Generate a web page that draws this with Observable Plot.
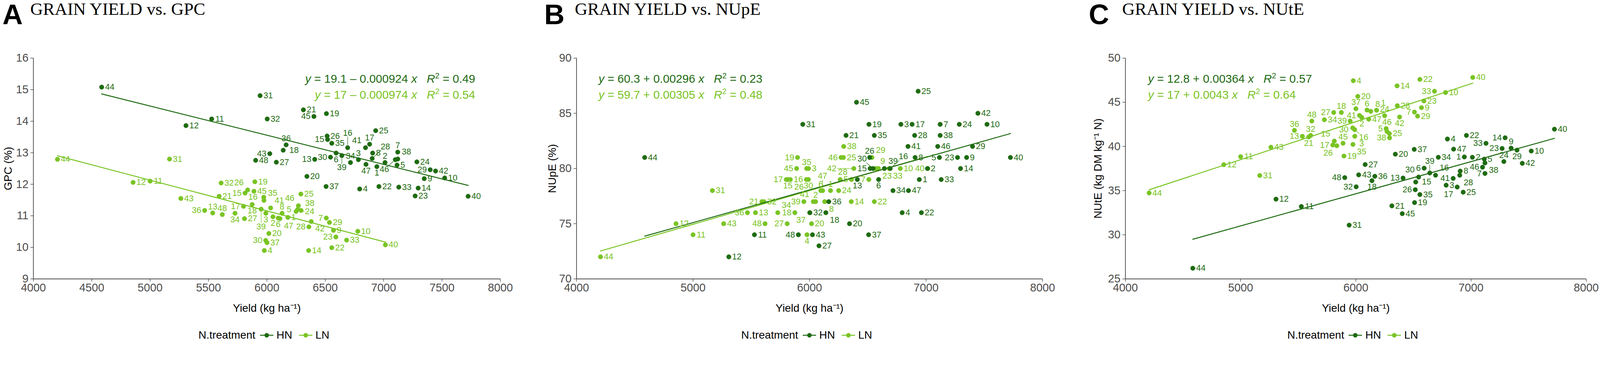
<!DOCTYPE html>
<html>
<head>
<meta charset="utf-8">
<script src="https://cdn.jsdelivr.net/npm/d3@7"></script>
<script src="https://cdn.jsdelivr.net/npm/@observablehq/plot@0.6"></script>
<style>
  html, body { margin: 0; padding: 0; background: #fff; overflow: hidden; }
  #root { position: absolute; left: 0; top: 0; width: 4552px; height: 974px; transform-origin: 0 0; font-family: "Liberation Sans", Arial, sans-serif; background: #fff; }
  .panel { position: absolute; top: 0; height: 974px; }
  .letter { position: absolute; top: 2px; font: bold 80px/80px "Liberation Sans", Arial, sans-serif; color: #000; }
  .title { position: absolute; top: 0; font: 50px/50px "Liberation Serif", "Times New Roman", serif; color: #000; white-space: nowrap; }
  .legend { position: absolute; top: 937px; display: flex; align-items: center; font-size: 31px; line-height: 36px; color: #000; white-space: nowrap; transform: translateX(-50%); }
  .legend svg { display: block; }
</style>
</head>
<body>
<div id="root"></div>
<script>
// ---------------- data ----------------
const genotypes = d3.range(1, 49).map(String);
const treatments = ["HN", "LN"];
const colors = ["#1e6b12", "#79c424"];

const yieldHN = [6942,7012,6784,6795,7115,6593,7121,6906,7348,7523,
                 5527,5307,6410,7296,6520,6692,6880,6140,6510,6343,
                 6313,6960,7270,7285,6932,6516,6081,6902,7399,6545,
                 5942,6003,7130,6716,6556,6165,6507,7121,6642,7724,
                 6845,7445,6025,4585,6403,7100,6849,5904];
const yieldLN = [6180,6052,5991,5978,6263,6097,6509,6130,6570,6779,
                 5000,4854,5536,6358,5813,5973,5800,5874,5897,6017,
                 5591,6556,6591,6250,6291,5835,5808,6360,6536,5990,
                 5166,5608,6683,5727,5975,5467,6001,6293,5951,7015,
                 6032,6380,5263,4206,5889,6270,6112,5618];

const gpcHN = [12.56,12.69,12.78,11.85,12.61,12.99,13.02,12.99,12.18,12.20,
               14.07,13.86,12.79,11.88,13.42,13.16,13.27,13.08,14.24,12.25,
               14.36,11.93,11.63,12.71,13.70,13.53,12.70,12.82,12.46,12.86,
               14.81,14.07,11.91,12.69,13.30,13.25,11.93,12.80,12.91,11.62,
               13.16,12.42,12.97,15.08,14.15,12.78,12.63,12.76];
const gpcLN = [10.95,10.97,11.08,9.90,11.20,10.93,10.93,11.08,10.54,10.51,
               12.10,12.06,11.09,9.90,11.72,11.59,11.30,11.36,12.08,10.44,
               11.62,9.99,10.33,11.14,11.69,11.82,10.91,10.65,10.79,10.22,
               12.80,12.04,10.23,11.08,11.49,11.17,10.15,11.17,11.21,10.08,
               11.25,10.82,11.55,12.79,11.78,11.32,10.91,11.04];

const nupeHN = [79,80,84,76,81,79,84,81,81,84,
                74,72,79,80,80,80,84,76,84,75,
                83,76,81,84,87,81,73,83,82,80,
                84,76,79,78,83,77,74,83,80,81,
                82,85,74,81,86,82,78,74];
const nupeLN = [78,77,80,74,79,78,79,77,80,80,
                74,75,76,77,79,79,79,76,81,75,
                77,77,80,78,81,79,75,79,81,79,
                78,77,80,76,80,76,76,82,77,80,
                77,80,75,72,80,81,78,75];

const nuteHN = [38.81,38.77,35.61,40.84,38.56,37.54,36.94,37.21,39.81,39.48,
                33.20,34.03,36.42,40.98,35.97,36.74,35.40,36.12,33.64,39.12,
                33.27,41.25,39.77,38.29,34.82,35.10,37.95,36.74,39.58,36.53,
                31.09,35.43,40.35,38.77,34.55,36.62,39.67,38.13,36.99,41.95,
                36.38,38.09,36.78,26.21,32.39,37.65,39.69,36.47];
const nuteLN = [44.10,43.28,41.15,47.44,42.02,44.12,43.89,43.97,44.39,46.10,
                38.84,37.93,41.15,46.86,40.61,42.10,40.16,43.84,38.91,45.67,
                41.07,47.59,45.15,43.48,41.45,40.08,43.84,44.61,43.43,41.90,
                36.71,41.25,46.25,43.02,40.23,41.82,44.27,40.97,42.87,47.81,
                43.51,43.33,39.91,34.73,40.36,41.70,43.08,42.87];

const panelLetters = ["A", "B", "C"];
const panelTitles = ["GRAIN YIELD vs. GPC", "GRAIN YIELD vs. NUpE", "GRAIN YIELD vs. NUtE"];
const yLabels = ["GPC (%)", "NUpE (%)", "NUtE (kg DM kg\u207B\u00B9 N)"];
const xLabel = "Yield (kg ha\u207B\u00B9)";
const xDomain = [4000, 8000];
const yDomains = [[9, 16], [70, 90], [25, 50]];
const xTicksA = [4000, 4500, 5000, 5500, 6000, 6500, 7000, 7500, 8000];
const xTicksBC = [4000, 5000, 6000, 7000, 8000];
const yTicksA = [9, 10, 11, 12, 13, 14, 15, 16];
const yTicksB = [70, 75, 80, 85, 90];
const yTicksC = [25, 30, 35, 40, 45, 50];
const interceptHN = [19.1, 60.3, 12.8];
const slopeHN = [-0.000924, 0.00296, 0.00364];
const r2HN = [0.49, 0.23, 0.57];
const interceptLN = [17, 59.7, 17];
const slopeLN = [-0.000974, 0.00305, 0.0043];
const r2LN = [0.54, 0.48, 0.64];
const legendTitle = "N.treatment";

// ---------------- layout ----------------
const root = document.getElementById("root");
const fitScale = Math.min(window.innerWidth / 4552, window.innerHeight / 974);
root.style.transform = `scale(${fitScale})`;

const PW = 4552 / 3, H = 845, MT = 85, MB = 131;
const layouts = [
  {ml: 94.5, mr: 94.3, letterX: 7, titleX: 86, eqAnchor: "end", eqDx: -71, yTitleDx: -72},
  {ml: 122.7, mr: 68.7, letterX: 31, titleX: 118, eqAnchor: "start", eqDx: 63, yTitleDx: -69},
  {ml: 166.3, mr: 40, letterX: 63, titleX: 158, eqAnchor: "start", eqDx: 65, yTitleDx: -78}
];
const FONT = "'Liberation Sans', Arial, sans-serif";
const LABEL_FS = 24, EQ_FS = 33, R = 6.5;

const panelValues = [[gpcHN, gpcLN], [nupeHN, nupeLN], [nuteHN, nuteLN]];
const yieldsByT = [yieldHN, yieldLN];
const intercepts = [interceptHN, interceptLN];
const slopes = [slopeHN, slopeLN];
const r2s = [r2HN, r2LN];
const xTicksAll = [xTicksA, xTicksBC, xTicksBC];
const yTicksAll = [yTicksA, yTicksB, yTicksC];

function overlap(a, b) {
  const w = Math.min(a[2], b[2]) - Math.max(a[0], b[0]);
  const h = Math.min(a[3], b[3]) - Math.max(a[1], b[1]);
  return (w > 0 && h > 0) ? w * h : 0;
}

// simple greedy label repel (ggrepel-like), in pixel space
function placeLabels(pts, frame, reserved) {
  const dotBoxes = pts.map(p => [p.px - R - 1, p.py - R - 1, p.px + R + 1, p.py + R + 1]);
  const crowd = pts.map(p => pts.filter(q => Math.hypot(q.px - p.px, q.py - p.py) < 45).length);
  const order = d3.range(pts.length).sort((a, b) => crowd[b] - crowd[a] || a - b);
  const placed = reserved.slice();
  const res = new Array(pts.length);
  for (const i of order) {
    const p = pts[i];
    const w = p.text.length * 0.556 * LABEL_FS, h = 0.72 * LABEL_FS;
    const cands = [];
    for (let k = 0; k < 7; k++) {
      const g = 3 + k * 8;
      const dirs = [[1, 0], [1, -1], [-1, 0], [-1, -1], [0, -1], [1, 1], [-1, 1], [0, 1]];
      for (const [dx, dy] of dirs) {
        const cx = p.px + dx * (R + g + w / 2) * (dy !== 0 && dx !== 0 ? 0.8 : 1);
        const cy = p.py + dy * (R + g + h / 2) * (dy !== 0 && dx !== 0 ? 0.8 : 1);
        cands.push({cx, cy, k});
      }
    }
    let best = null, bestScore = Infinity;
    cands.forEach((c, ci) => {
      const b = [c.cx - w / 2, c.cy - h / 2, c.cx + w / 2, c.cy + h / 2];
      let s = ci * 1.2;
      for (const d of dotBoxes) s += overlap(b, d) * 8;
      for (const q of placed) s += overlap(b, q) * 20;
      if (b[0] < frame[0] || b[2] > frame[2] || b[1] < frame[1] || b[3] > frame[3]) s += 1e6;
      if (s < bestScore) { bestScore = s; best = {b, k: c.k}; }
    });
    placed.push(best.b);
    const cx = (best.b[0] + best.b[2]) / 2, cy = (best.b[1] + best.b[3]) / 2;
    // leader segment endpoints when the label is pushed away
    let seg = null;
    const dist = Math.hypot(cx - p.px, cy - p.py);
    if (best.k >= 2 && dist > 0) {
      const ux = (cx - p.px) / dist, uy = (cy - p.py) / dist;
      const tx = Math.abs(ux) > 1e-6 ? (w / 2 + 2) / Math.abs(ux) : Infinity;
      const ty = Math.abs(uy) > 1e-6 ? (h / 2 + 2) / Math.abs(uy) : Infinity;
      const tEdge = Math.min(tx, ty);
      const endLen = dist - tEdge;
      if (endLen > R + 4) seg = {x1: p.px + ux * (R + 1), y1: p.py + uy * (R + 1), x2: p.px + ux * endLen, y2: p.py + uy * endLen};
    }
    res[i] = {cx, cy, seg};
  }
  return res;
}

function fmtEq(a, b) {
  const sign = b < 0 ? "\u2013" : "+";
  return [String(a), sign, String(Math.abs(b))];
}

for (let p = 0; p < 3; p++) {
  const L = layouts[p];
  const panel = document.createElement("div");
  panel.className = "panel";
  panel.style.left = (p * PW) + "px";
  panel.style.width = PW + "px";
  root.appendChild(panel);

  const letter = document.createElement("div");
  letter.className = "letter";
  letter.style.left = L.letterX + "px";
  letter.textContent = panelLetters[p];
  panel.appendChild(letter);

  const title = document.createElement("div");
  title.className = "title";
  title.style.left = L.titleX + "px";
  title.textContent = panelTitles[p];
  panel.appendChild(title);

  const yDom = yDomains[p];
  const xScale = Plot.scale({x: {domain: xDomain, range: [L.ml, PW - L.mr]}});
  const yScale = Plot.scale({y: {domain: yDom, range: [H - MB, MT]}});

  const rows = [[], []];
  for (let t = 0; t < 2; t++) {
    for (let i = 0; i < genotypes.length; i++) {
      rows[t].push({id: genotypes[i], yield: yieldsByT[t][i], value: panelValues[p][t][i], t});
    }
  }
  const lineRows = [0, 1].map(t => {
    const [x0, x1] = d3.extent(yieldsByT[t]);
    return [x0, x1].map(x => ({x, y: intercepts[t][p] + slopes[t][p] * x}));
  });

  const all = rows[0].concat(rows[1]);
  const pts = all.map(d => ({px: xScale.apply(d.yield), py: yScale.apply(d.value), text: d.id}));
  const frame = [L.ml + 2, MT + 2, PW - L.mr - 2, H - MB - 2];
  const eqW = 480;
  const eqBox = L.eqAnchor === "end"
    ? [PW - L.mr + L.eqDx - eqW, MT + 71 - 28, PW - L.mr + L.eqDx, MT + 116 + 8]
    : [L.ml + L.eqDx, MT + 71 - 28, L.ml + L.eqDx + eqW, MT + 116 + 8];
  const placedPos = placeLabels(pts, frame, [eqBox]);
  const labelRows = all.map((d, i) => ({
    id: d.id, t: d.t,
    lx: xScale.invert(placedPos[i].cx),
    ly: yScale.invert(placedPos[i].cy)
  }));
  const segRows = [];
  all.forEach((d, i) => {
    const s = placedPos[i].seg;
    if (s) segRows.push({t: d.t, x1: xScale.invert(s.x1), y1: yScale.invert(s.y1), x2: xScale.invert(s.x2), y2: yScale.invert(s.y2)});
  });

  const svg = Plot.plot({
    width: PW, height: H,
    marginLeft: L.ml, marginRight: L.mr, marginTop: MT, marginBottom: MB,
    x: {domain: xDomain},
    y: {domain: yDom},
    style: {fontFamily: FONT, background: "white", overflow: "visible"},
    marks: [
      Plot.axisX({ticks: xTicksAll[p], tickFormat: d3.format("d"), tickSize: 8, tickPadding: 5, fontSize: 32, color: "#4d4d4d", strokeWidth: 1.6, label: null}),
      Plot.axisY({ticks: yTicksAll[p], tickFormat: d3.format("d"), tickSize: 8, tickPadding: 6, fontSize: 32, color: "#4d4d4d", strokeWidth: 1.6, label: null}),
      Plot.ruleY([yDom[0]], {stroke: "#333", strokeWidth: 1.8}),
      Plot.ruleX([xDomain[0]], {stroke: "#333", strokeWidth: 1.8}),
      Plot.link(segRows.filter(d => d.t === 1), {x1: "x1", y1: "y1", x2: "x2", y2: "y2", stroke: colors[1], strokeWidth: 1.3}),
      Plot.link(segRows.filter(d => d.t === 0), {x1: "x1", y1: "y1", x2: "x2", y2: "y2", stroke: colors[0], strokeWidth: 1.3}),
      Plot.dot(rows[1], {x: "yield", y: "value", r: R, fill: colors[1], stroke: colors[1], strokeWidth: 0.8}),
      Plot.dot(rows[0], {x: "yield", y: "value", r: R, fill: colors[0], stroke: colors[0], strokeWidth: 0.8}),
      Plot.line(lineRows[1], {x: "x", y: "y", stroke: colors[1], strokeWidth: 2.8}),
      Plot.line(lineRows[0], {x: "x", y: "y", stroke: colors[0], strokeWidth: 2.8}),
      Plot.text(labelRows.filter(d => d.t === 1), {x: "lx", y: "ly", text: "id", fill: colors[1], fontSize: LABEL_FS, textAnchor: "middle", lineAnchor: "middle"}),
      Plot.text(labelRows.filter(d => d.t === 0), {x: "lx", y: "ly", text: "id", fill: colors[0], fontSize: LABEL_FS, textAnchor: "middle", lineAnchor: "middle"}),
      Plot.text([xLabel], {frameAnchor: "bottom", dy: 83, textAnchor: "middle", lineAnchor: "middle", fontSize: 31, fill: "#000"}),
      Plot.text([yLabels[p]], {frameAnchor: "left", dx: L.yTitleDx, rotate: -90, textAnchor: "middle", lineAnchor: "middle", fontSize: 31, fill: "#000"})
    ]
  });
  svg.style.position = "absolute";
  svg.style.top = "80px";
  svg.style.left = "0px";
  panel.appendChild(svg);

  const sel = d3.select(svg);
  const eqX = L.eqAnchor === "end" ? PW - L.mr + L.eqDx : L.ml + L.eqDx;
  [0, 1].forEach(t => {
    const [a, s, b] = fmtEq(intercepts[t][p], slopes[t][p]);
    const txt = sel.append("text")
      .attr("x", eqX).attr("y", MT + (t === 0 ? 71 : 116))
      .attr("text-anchor", L.eqAnchor)
      .attr("fill", colors[t])
      .attr("font-family", FONT)
      .attr("font-size", EQ_FS)
      .style("white-space", "pre");
    txt.append("tspan").attr("font-style", "italic").text("y");
    txt.append("tspan").text(` = ${a} ${s} ${b} `);
    txt.append("tspan").attr("font-style", "italic").text("x");
    txt.append("tspan").text("   ");
    txt.append("tspan").attr("font-style", "italic").text("R");
    txt.append("tspan").attr("dy", -13).attr("font-size", 22).text("2");
    txt.append("tspan").attr("dy", 13).text(` = ${r2s[t][p].toFixed(2)}`);
  });

  const lg = document.createElement("div");
  lg.className = "legend";
  lg.style.left = (L.ml + (PW - L.ml - L.mr) / 2 - 8) + "px";
  const lt = document.createElement("span");
  lt.textContent = legendTitle;
  lt.style.marginRight = "12px";
  lg.appendChild(lt);
  treatments.forEach((tr, t) => {
    const k = d3.create("svg").attr("width", 40).attr("height", 30);
    k.append("line").attr("x1", 1).attr("x2", 39).attr("y1", 15).attr("y2", 15).attr("stroke", colors[t]).attr("stroke-width", 2.8);
    k.append("circle").attr("cx", 20).attr("cy", 15).attr("r", R).attr("fill", colors[t]);
    lg.appendChild(k.node());
    const s = document.createElement("span");
    s.textContent = tr;
    s.style.marginLeft = "8px";
    s.style.marginRight = t === 0 ? "18px" : "0";
    lg.appendChild(s);
  });
  panel.appendChild(lg);
}
</script>
</body>
</html>
